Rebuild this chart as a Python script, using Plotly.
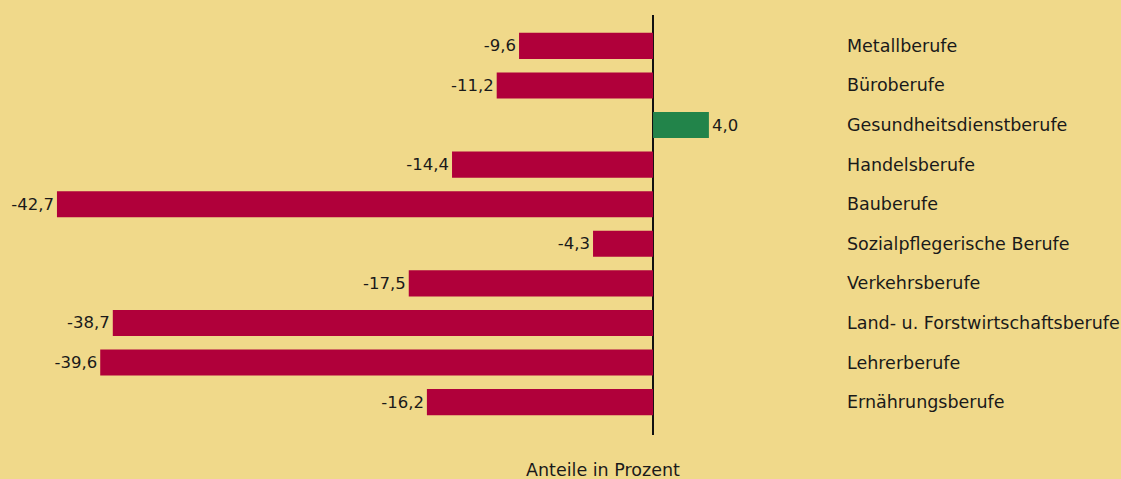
import plotly.graph_objects as go

# -----------------------
# Data
# -----------------------
berufe = [
    "Metallberufe",
    "Büroberufe",
    "Gesundheitsdienstberufe",
    "Handelsberufe",
    "Bauberufe",
    "Sozialpflegerische Berufe",
    "Verkehrsberufe",
    "Land- u. Forstwirtschaftsberufe",
    "Lehrerberufe",
    "Ernährungsberufe",
]
werte = [-9.6, -11.2, 4.0, -14.4, -42.7, -4.3, -17.5, -38.7, -39.6, -16.2]

RED = "#B0003A"
GREEN = "#22844A"
BG = "#F0D98A"
FONT = "DejaVu Sans"

colors = [GREEN if v > 0 else RED for v in werte]
labels = [f"{v:.1f}".replace(".", ",") for v in werte]

# -----------------------
# Figure
# -----------------------
fig = go.Figure()

fig.add_trace(go.Bar(
    x=werte,
    y=berufe,
    orientation="h",
    marker=dict(color=colors, line=dict(width=0)),
    width=0.66,
    text=labels,
    textposition="outside",
    constraintext="none",
    textfont=dict(family=FONT, size=16.5, color="#1a1a1a"),
    cliponaxis=False,
))

# category names on the right
for b in berufe:
    fig.add_annotation(
        x=0.7538, xref="paper", xanchor="left",
        y=b, yref="y",
        text=b, showarrow=False,
        font=dict(family=FONT, size=17.5, color="#1a1a1a"),
    )

fig.add_annotation(
    x=0.538, xref="paper", xanchor="center",
    y=0, yref="paper", yanchor="top", yshift=-23,
    text="Anteile in Prozent", showarrow=False,
    font=dict(family=FONT, size=17.5, color="#1a1a1a"),
)

fig.update_layout(
    width=1121,
    height=479,
    margin=dict(l=0, r=0, t=15, b=44),
    paper_bgcolor=BG,
    plot_bgcolor=BG,
    showlegend=False,
    xaxis=dict(
        range=[-46.78, 33.52],
        showgrid=False,
        showticklabels=False,
        zeroline=True,
        zerolinecolor="#111111",
        zerolinewidth=1.5,
    ),
    yaxis=dict(
        range=[9.83, -0.78],
        showgrid=False,
        showticklabels=False,
        zeroline=False,
    ),
)

fig.write_html(
    "out.html",
    config={"displayModeBar": False},
    post_script="document.body.style.margin='0';document.body.style.overflow='hidden';",
)
